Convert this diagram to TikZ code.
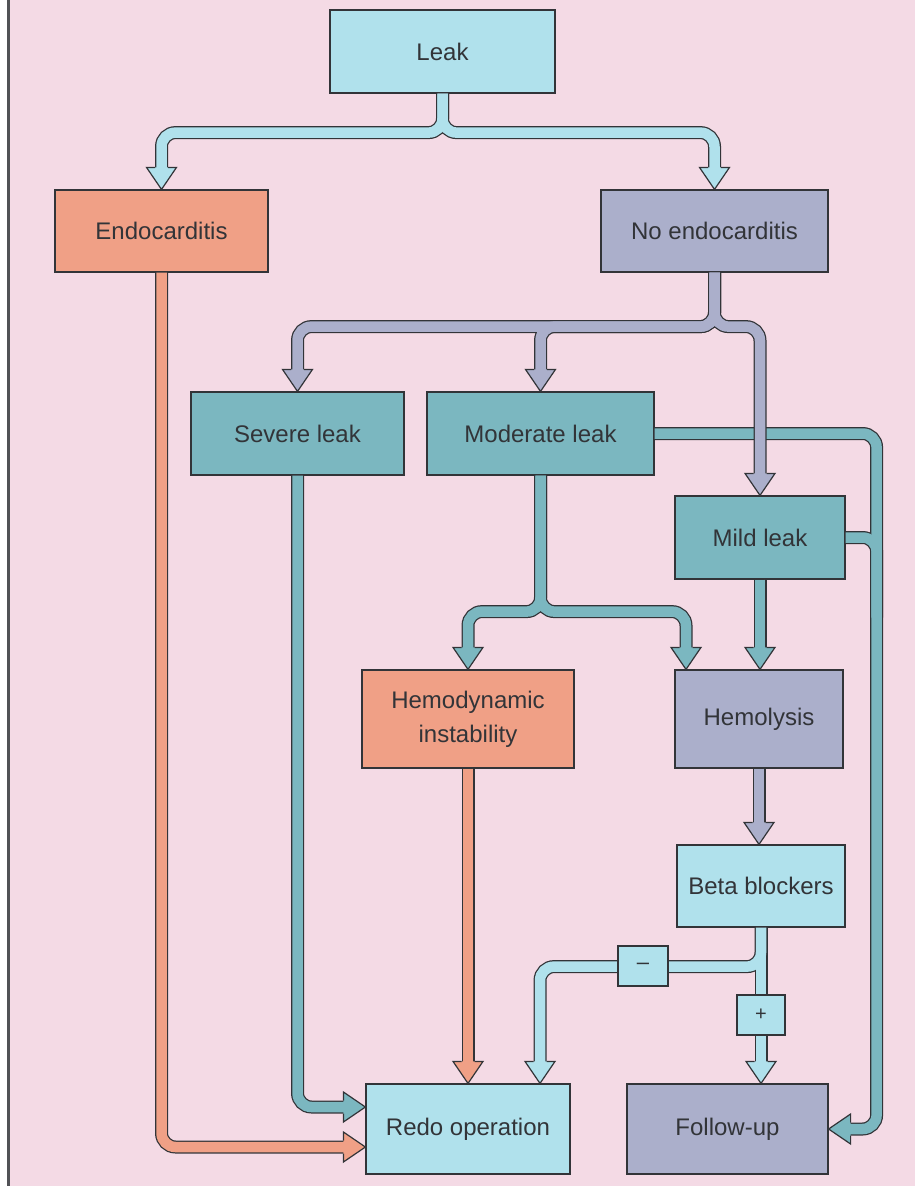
\documentclass[tikz,border=0pt]{standalone}
\usepackage{fontspec}
\setmainfont{Liberation Sans}
\usetikzlibrary{calc}

\definecolor{bgpink}{RGB}{244,218,229}
\definecolor{linec}{RGB}{50,52,56}
\definecolor{cyanc}{RGB}{176,225,236}
\definecolor{salmonc}{RGB}{240,160,134}
\definecolor{lavc}{RGB}{171,175,203}
\definecolor{tealc}{RGB}{123,183,192}

\tikzset{every picture/.style={line width=0.75pt}}
\tikzset{
  box/.style={draw=linec, line width=1.2pt, inner sep=0pt, align=center, text=linec,
    font=\fontsize{24}{34}\selectfont},
  pipe/.style={rounded corners=14pt, shorten >=21pt},
  tip/.pic={
    \fill[#1] (0,0) -- (-15,22) -- (15,22) -- cycle;
    \draw[linec, line width=1.2pt, line join=miter] (-6.5,22) -- (-15,22) -- (0,0) -- (15,22) -- (6.5,22);
  }
}

\begin{document}
\begin{tikzpicture}[x=1pt,y=1pt,yscale=-1]
\useasboundingbox (0,0) rectangle (915,1186);

% page
\fill[white] (0,0) rectangle (915,1186);
\fill[bgpink] (10,0) rectangle (915,1186);
\draw[linec!85, line width=2.5pt] (8.5,0) -- (8.5,1186);

% Boxes
\node[box, fill=cyanc, minimum width=225pt, minimum height=83pt] (leak) at (442.5,51.5) {Leak};
\node[box, fill=salmonc, minimum width=213pt, minimum height=82pt] (endo) at (161.5,231) {Endocarditis};
\node[box, fill=lavc, minimum width=227pt, minimum height=82pt] (nend) at (714.5,231) {No endocarditis};
\node[box, fill=tealc, minimum width=213pt, minimum height=83pt] (severe) at (297.5,433.5) {Severe leak};
\node[box, fill=tealc, minimum width=227pt, minimum height=83pt] (moder) at (540.5,433.5) {Moderate leak};
\node[box, fill=tealc, minimum width=170pt, minimum height=83pt] (mild) at (760,537.5) {Mild leak};
\node[box, fill=salmonc, minimum width=212pt, minimum height=98pt] (hemo) at (468,719) {Hemodynamic\\instability};
\node[box, fill=lavc, minimum width=168pt, minimum height=98pt] (hemol) at (759,719) {Hemolysis};
\node[box, fill=cyanc, minimum width=168pt, minimum height=82pt] (beta) at (761,886) {Beta blockers};
\node[box, fill=cyanc, minimum width=204pt, minimum height=90pt] (redo) at (468,1129) {Redo operation};
\node[box, fill=lavc, minimum width=201pt, minimum height=90pt] (follow) at (727.5,1129) {Follow-up};

% teal pipes
\foreach \lw/\clr in {13pt/linec,10.5pt/tealc}{
  \draw[pipe, line width=\lw, draw=\clr] (moder.east) -- ++(222,0) |- (follow.east);
  \draw[pipe, line width=\lw, draw=\clr, shorten >=0pt] (mild.east) -- ++(31,0) -- ++(0,80);
  \draw[pipe, line width=\lw, draw=\clr] (severe.south) |- ($(redo.west)+(0,-22)$);
  \draw[pipe, line width=\lw, draw=\clr] (moder.south) -- ++(0,136) -| (hemo.north);
  \draw[pipe, line width=\lw, draw=\clr] (moder.south) -- ++(0,136) -| ($(hemol.north)+(-73,0)$);
  \draw[pipe, line width=\lw, draw=\clr] (mild.south) -- (mild.south |- hemol.north);
}
\pic[rotate=-90] at (follow.east) {tip=tealc};
\pic[rotate=90] at ($(redo.west)+(0,-22)$) {tip=tealc};
\pic at (hemo.north) {tip=tealc};
\pic at ($(hemol.north)+(-73,0)$) {tip=tealc};
\pic at (mild.south |- hemol.north) {tip=tealc};

% lavender pipes
\foreach \lw/\clr in {13pt/linec,10.5pt/lavc}{
  \draw[pipe, line width=\lw, draw=\clr] (nend.south) -- ++(0,54) -| (severe.north);
  \draw[pipe, line width=\lw, draw=\clr] (nend.south) -- ++(0,54) -| (moder.north);
  \draw[pipe, line width=\lw, draw=\clr] (nend.south) -- ++(0,54) -| (mild.north);
  \draw[pipe, line width=\lw, draw=\clr] (hemol.south) -- (hemol.south |- beta.north);
}
\pic at (severe.north) {tip=lavc};
\pic at (moder.north) {tip=lavc};
\pic at (mild.north) {tip=lavc};
\pic at (hemol.south |- beta.north) {tip=lavc};

% salmon pipes
\foreach \lw/\clr in {13pt/linec,10.5pt/salmonc}{
  \draw[pipe, line width=\lw, draw=\clr] (endo.south) |- ($(redo.west)+(0,18)$);
  \draw[pipe, line width=\lw, draw=\clr] (hemo.south) -- (redo.north);
}
\pic[rotate=90] at ($(redo.west)+(0,18)$) {tip=salmonc};
\pic at (redo.north) {tip=salmonc};

% light blue pipes
\foreach \lw/\clr in {13pt/linec,10.5pt/cyanc}{
  \draw[pipe, line width=\lw, draw=\clr] (leak.south) -- ++(0,39) -| (endo.north);
  \draw[pipe, line width=\lw, draw=\clr] (leak.south) -- ++(0,39) -| (nend.north);
  \draw[pipe, line width=\lw, draw=\clr] (beta.south) -- ++(0,39) -| ($(redo.north)+(72,0)$);
  \draw[pipe, line width=\lw, draw=\clr] (beta.south) -- (beta.south |- follow.north);
}
\pic at (endo.north) {tip=cyanc};
\pic at (nend.north) {tip=cyanc};
\pic at ($(redo.north)+(72,0)$) {tip=cyanc};
\pic at (beta.south |- follow.north) {tip=cyanc};

% sign boxes
\node[box, fill=cyanc, minimum width=50pt, minimum height=40pt, font=\fontsize{22}{24}\selectfont] (minus) at (643,966) {–};
\node[box, fill=cyanc, minimum width=48pt, minimum height=40pt, font=\fontsize{20}{24}\selectfont] (plus) at (761,1015) {+};

\end{tikzpicture}
\end{document}
